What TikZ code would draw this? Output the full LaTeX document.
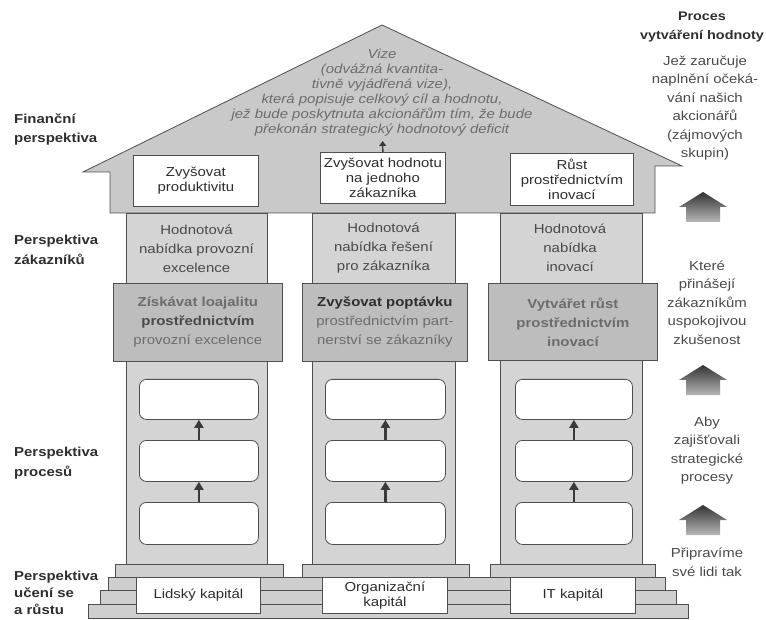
\documentclass[tikz,border=0pt]{standalone}
\usepackage{fontspec}
\setmainfont{Liberation Sans}[FakeStretch=1.15]
\usetikzlibrary{arrows.meta}

\definecolor{roofgray}{HTML}{C9C9C9}
\definecolor{pilgray}{HTML}{D4D4D4}
\definecolor{custgray}{HTML}{BDBDBD}
\definecolor{stepgray}{HTML}{CFCFCF}
\definecolor{edgegray}{HTML}{4F4F4F}
\definecolor{arrowgray}{HTML}{3A3A3A}
\definecolor{txtdark}{HTML}{2E2E2E}
\definecolor{txtmid}{HTML}{4A4A4A}
\definecolor{txtlight}{HTML}{6C6C6C}

\newcommand{\valarrow}[2]{%
  \shade[top color=black!80, bottom color=black!28]
    ({#1-24},{#2+15}) -- (#1,#2) -- ({#1+24},{#2+15}) -- ({#1+17},{#2+15})
    -- ({#1+17},{#2+30}) -- ({#1-17},{#2+30}) -- ({#1-17},{#2+15}) -- cycle;}

\begin{document}
\begin{tikzpicture}[x=1pt,y=-1pt,
  box/.style={draw=edgegray, line width=0.8pt, inner sep=0pt, anchor=north west,
    align=center, font=\fontsize{13}{15}\selectfont, text=txtdark},
  pillarbox/.style={box, fill=pilgray},
  custbox/.style={box, fill=custgray, font=\fontsize{13}{19}\selectfont, text=txtlight},
  whitebox/.style={box, fill=white},
  procbox/.style={box, fill=white, rounded corners=7pt},
  stepbar/.style={box, fill=stepgray},
  rooffill/.style={draw=edgegray, line width=0.8pt, fill=roofgray},
  parrow/.style={draw=arrowgray, line width=2.4pt, -{Triangle[length=8pt,width=9pt]}},
  pilltext/.style={inner sep=0pt, align=center, font=\fontsize{13}{19}\selectfont, text=txtmid},
  lbl/.style={inner sep=0pt, align=left, anchor=west, font=\fontsize{13}{19.5}\selectfont\bfseries, text=txtdark},
  rtitle/.style={inner sep=0pt, align=center, font=\fontsize{12.5}{19}\selectfont\bfseries, text=txtdark},
  rtxt/.style={inner sep=0pt, align=center, font=\fontsize{13}{18.5}\selectfont, text=txtmid},
  vision/.style={inner sep=0pt, align=center, font=\fontsize{13}{15}\selectfont\itshape, text=txtlight}
]
\useasboundingbox (0,0) rectangle (766,620);

% steps
\node[stepbar, minimum width=600pt, minimum height=14pt] (st4) at (88,604) {};
\node[stepbar, minimum width=576pt, minimum height=14pt] (st3) at (100,590) {};
\node[stepbar, minimum width=557pt, minimum height=13pt] (st2) at (108,577) {};
\node[stepbar, minimum width=168pt, minimum height=13pt] (bs1) at (115,564) {};
\node[stepbar, minimum width=167pt, minimum height=13pt] (bs2) at (302,564) {};
\node[stepbar, minimum width=165pt, minimum height=13pt] (bs3) at (490,564) {};

% pillars
\node[pillarbox, minimum width=141pt, minimum height=351pt] (pil1) at (126,213) {};
\node[pillarbox, minimum width=143pt, minimum height=351pt] (pil2) at (312,213) {};
\node[pillarbox, minimum width=142pt, minimum height=351pt] (pil3) at (500,213) {};

% roof
\draw[rooffill] (83,172) -- (382,25) -- (682,166) -- (655,166) -- (655,213)
  -- (110,213) -- (110,172) -- cycle;

\node[vision] (vize) at (382,92.5) {Vize\\(odvážná kvantita-\\tivně vyjádřená vize),\\která popisuje celkový cíl a hodnotu,\\jež bude poskytnuta akcionářům tím, že bude\\překonán strategický hodnotový deficit};

% roof boxes
\node[whitebox, minimum width=125pt, minimum height=51pt] (rb1) at (133,155) {Zvyšovat\\produktivitu};
\node[whitebox, minimum width=125pt, minimum height=51pt] (rb2) at (320,152) {Zvyšovat hodnotu\\na jednoho\\zákazníka};
\node[whitebox, minimum width=123pt, minimum height=52pt] (rb3) at (510,153) {Růst\\prostřednictvím\\inovací};
\coordinate (vzb) at (382.5,141);
\draw[parrow, line width=1.4pt, -{Triangle[length=5pt,width=7pt]}] (rb2.north) -- (vzb);

% value proposition texts
\node[pilltext] (hv1) at (196.5,248.5) {Hodnotová\\nabídka provozní\\excelence};
\node[pilltext] (hv2) at (383.5,248.5) {Hodnotová\\nabídka řešení\\pro zákazníka};
\node[pilltext] (hv3) at (570,248) {Hodnotová\\nabídka\\inovací};

% customer boxes
\node[custbox, minimum width=169pt, minimum height=78pt] (cb1) at (113,283)
  {{\bfseries Získávat loajalitu}\\{\bfseries\color{txtmid}prostřednictvím}\\provozní excelence};
\node[custbox, minimum width=165pt, minimum height=78pt] (cb2) at (302,283)
  {{\bfseries\color{txtdark}Zvyšovat poptávku}\\prostřednictvím part-\\nerství se zákazníky};
\node[custbox, minimum width=169pt, minimum height=77pt, font=\fontsize{13}{19}\selectfont\bfseries] (cb3) at (488,283)
  {Vytvářet růst\\prostřednictvím\\inovací};

% process boxes
\node[procbox, minimum width=119pt, minimum height=40pt] (p1a) at (139,379) {};
\node[procbox, minimum width=119pt, minimum height=41pt] (p1b) at (139,440) {};
\node[procbox, minimum width=119pt, minimum height=42pt] (p1c) at (139,502) {};
\node[procbox, minimum width=120pt, minimum height=40pt] (p2a) at (325,379) {};
\node[procbox, minimum width=120pt, minimum height=41pt] (p2b) at (325,440) {};
\node[procbox, minimum width=120pt, minimum height=42pt] (p2c) at (325,502) {};
\node[procbox, minimum width=117pt, minimum height=40pt] (p3a) at (515,379) {};
\node[procbox, minimum width=117pt, minimum height=41pt] (p3b) at (515,440) {};
\node[procbox, minimum width=117pt, minimum height=42pt] (p3c) at (515,502) {};
\draw[parrow] (p1c.north) -- (p1b.south);
\draw[parrow] (p1b.north) -- (p1a.south);
\draw[parrow] (p2c.north) -- (p2b.south);
\draw[parrow] (p2b.north) -- (p2a.south);
\draw[parrow] (p3c.north) -- (p3b.south);
\draw[parrow] (p3b.north) -- (p3a.south);

% capital boxes
\node[whitebox, minimum width=124pt, minimum height=36pt] (k1) at (136,577) {Lidský kapitál};
\node[whitebox, minimum width=125pt, minimum height=36pt] (k2) at (322,577) {Organizační\\kapitál};
\node[whitebox, minimum width=125pt, minimum height=36pt] (k3) at (510,577) {IT kapitál};

% left labels
\node[lbl] (lf) at (14,129.5) {Finanční\\perspektiva};
\node[lbl] (lz) at (14,250) {Perspektiva\\zákazníků};
\node[lbl] (lp) at (14,463) {Perspektiva\\procesů};
\node[lbl, font=\fontsize{13}{17}\selectfont\bfseries] (lu) at (14,593) {Perspektiva\\učení se\\a růstu};

% right column
\node[rtitle] (rt) at (702,27.5) {Proces\\vytváření hodnoty};
\node[rtxt] (rx1) at (705,108) {Jež zaručuje\\naplnění očeká-\\vání našich\\akcionářů\\(zájmových\\skupin)};
\node[rtxt] (rx2) at (707,302.5) {Které\\přinášejí\\zákazníkům\\uspokojivou\\zkušenost};
\node[rtxt] (rx3) at (707,450.5) {Aby\\zajišťovali\\strategické\\procesy};
\node[rtxt] (rx4) at (707,562.5) {Připravíme\\své lidi tak};
\valarrow{703}{192}
\valarrow{703}{365}
\valarrow{703}{505}
\end{tikzpicture}
\end{document}
